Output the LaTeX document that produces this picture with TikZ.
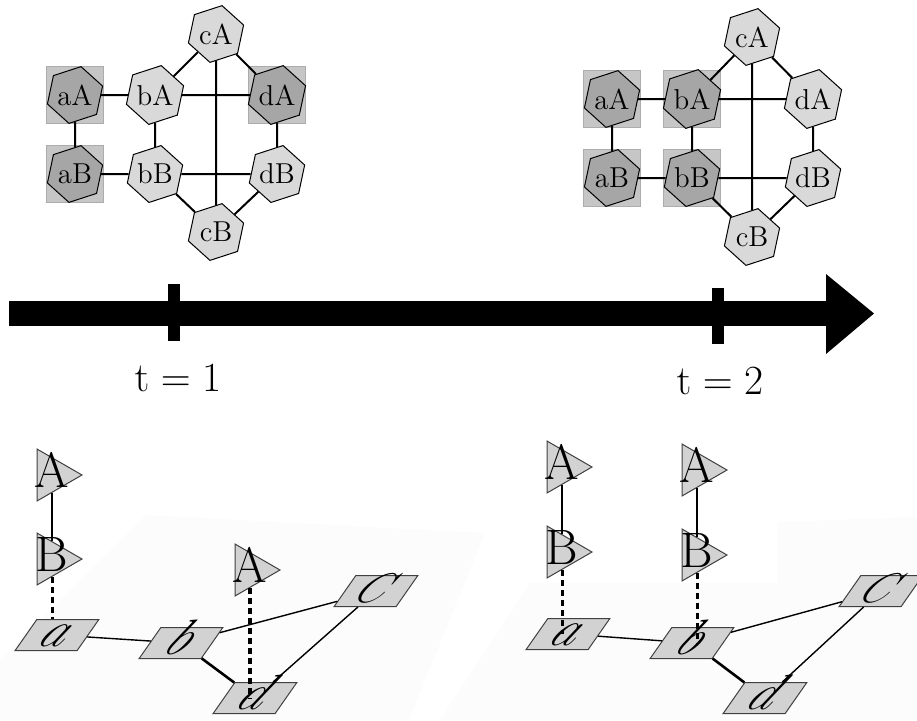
\documentclass[tikz,border=0pt]{standalone}
\usepackage{amsmath}
\usepackage{tikz}
\usetikzlibrary{shapes,positioning,backgrounds}
\tikzset{hexnode/.style={
    regular polygon, regular polygon sides=6, shape border rotate=18,
    draw, line width=0.5pt, fill=gray!30,
    minimum size=29pt, inner sep=0pt, font=\Large
  },
  hexdark/.style={hexnode, fill=gray!70},
  hexbox/.style={draw=gray!65, line width=0.75pt, fill=gray!45,
    minimum size=28.5pt, inner sep=0pt},
  proc/.style={
    regular polygon, regular polygon sides=3, shape border rotate=-90,
    draw=black!75, line width=0.5pt, fill=gray!35,
    minimum size=30pt, inner sep=0pt,
    label={[font=\Huge, inner sep=0pt, yshift=2.5pt]center:#1}
  },
  vert/.style={
    xslant=0.7, draw=black!75, line width=0.5pt, fill=gray!35,
    minimum width=31pt, minimum height=15.5pt, inner sep=0pt,
    text height=11.5pt, text depth=0pt, font=\Huge
  },
  link/.style={line width=1pt},
  wire/.style={line width=0.7pt},
  heavy wire/.style={line width=1.3pt},
  host/.style={line width=1.5pt, dash pattern=on 3pt off 2pt},
  tick mark/.style={line width=6pt}
}

\begin{document}
\begin{tikzpicture}[x=0.5pt, y=-0.5pt]
  \useasboundingbox (0,0) rectangle (917,720);
  % faint planes under the lower graphs
  \fill[black!1] (146,515) -- (485,533) -- (409,720) -- (0,720) -- (0,660) -- cycle;
  \fill[black!1] (530,583) -- (777,583) -- (777,522) -- (917,517) -- (917,720) -- (440,720) -- cycle;

  % t = 1
  \foreach \n/\x/\y/\s in {aA/75/95/hexdark, aB/75/174/hexdark, bA/155/95/hexnode,
      bB/155/174/hexnode, cA/216/34/hexnode, cB/216/232/hexnode,
      dA/277/95/hexdark, dB/277/174/hexnode}
    \node[\s] (\n1) at (\x,\y) {\n};
  \foreach \u/\v in {aA/bA, aA/aB, aB/bB, bA/bB, bA/cA, bA/dA, cA/dA, cA/cB,
      dA/dB, bB/dB, bB/cB, dB/cB}
    \draw[link] (\u1) -- (\v1);
  \begin{scope}[on background layer]
    \foreach \n in {aA,aB,dA}
      \node[hexbox] (box\n1) at (\n1) {};
  \end{scope}

  % t = 2
  \foreach \n/\x/\y/\s in {aA/612/99/hexdark, aB/612/178/hexdark, bA/692/99/hexdark,
      bB/692/178/hexdark, cA/752/37/hexnode, cB/752/237/hexnode,
      dA/813/99/hexnode, dB/813/178/hexnode}
    \node[\s] (\n2) at (\x,\y) {\n};
  \foreach \u/\v in {aA/bA, aA/aB, aB/bB, bA/bB, bA/cA, bA/dA, cA/dA, cA/cB,
      dA/dB, bB/dB, bB/cB, dB/cB}
    \draw[link] (\u2) -- (\v2);
  \begin{scope}[on background layer]
    \foreach \n in {aA,aB,bA,bB}
      \node[hexbox] (box\n2) at (\n2) {};
  \end{scope}

  % time line
  \coordinate (start) at (9,313.5);
  \coordinate (head) at (826,313.5);
  \draw[line width=12.5pt] (start) -- (head);
  \fill (826,274) -- (874,313.5) -- (826,354) -- cycle;
  \draw[tick mark] (174,284) -- (174,341);
  \draw[tick mark] (718,288) -- (718,344);
  \node[font=\huge] (time1) at (178,378) {$\mathrm{t} = 1$};
  \node[font=\huge] (time2) at (720,381) {$\mathrm{t} = 2$};

  % lower left
  \node[vert] (a1) at (57,635) {$a$};
  \node[vert] (b1) at (181,643) {$b$};
  \node[vert, font=\huge] (c1) at (376,591) {$C$};
  \node[vert] (d1) at (255,698) {$d$};
  \node[proc=A] (tA1) at (52,475) {};
  \node[proc=B] (tB1) at (52,559) {};
  \node[proc=A] (tA3) at (250,570) {};
  \draw[wire] (a1) -- (b1);
  \draw[wire] (b1) -- (c1);
  \draw[wire] (c1) -- (d1);
  \draw[heavy wire] (b1) -- (d1);
  \draw[link] (tA1) -- (tB1);
  \draw[host] (tB1) -- (tB1 |- a1.north);
  \draw[host, line width=2pt] (tA3) -- (tA3 |- d1);

  % lower right
  \node[vert] (a2) at (568,634) {$a$};
  \node[vert] (b2) at (692,643) {$b$};
  \node[vert, font=\huge] (c2) at (881,591) {$C$};
  \node[vert] (d2) at (765,698) {$d$};
  \node[proc=A] (tA2) at (562,467) {};
  \node[proc=B] (tB2) at (562,552) {};
  \node[proc=A] (tA4) at (697,470) {};
  \node[proc=B] (tB4) at (697,555) {};
  \draw[wire] (a2) -- (b2);
  \draw[wire] (b2) -- (c2);
  \draw[wire] (c2) -- (d2);
  \draw[heavy wire] (b2) -- (d2);
  \draw[link] (tA2) -- (tB2);
  \draw[link] (tA4) -- (tB4);
  \draw[host] (tB2) -- (tB2 |- a2);
  \draw[host] (tB4) -- (tB4 |- b2);
\end{tikzpicture}
\end{document}
